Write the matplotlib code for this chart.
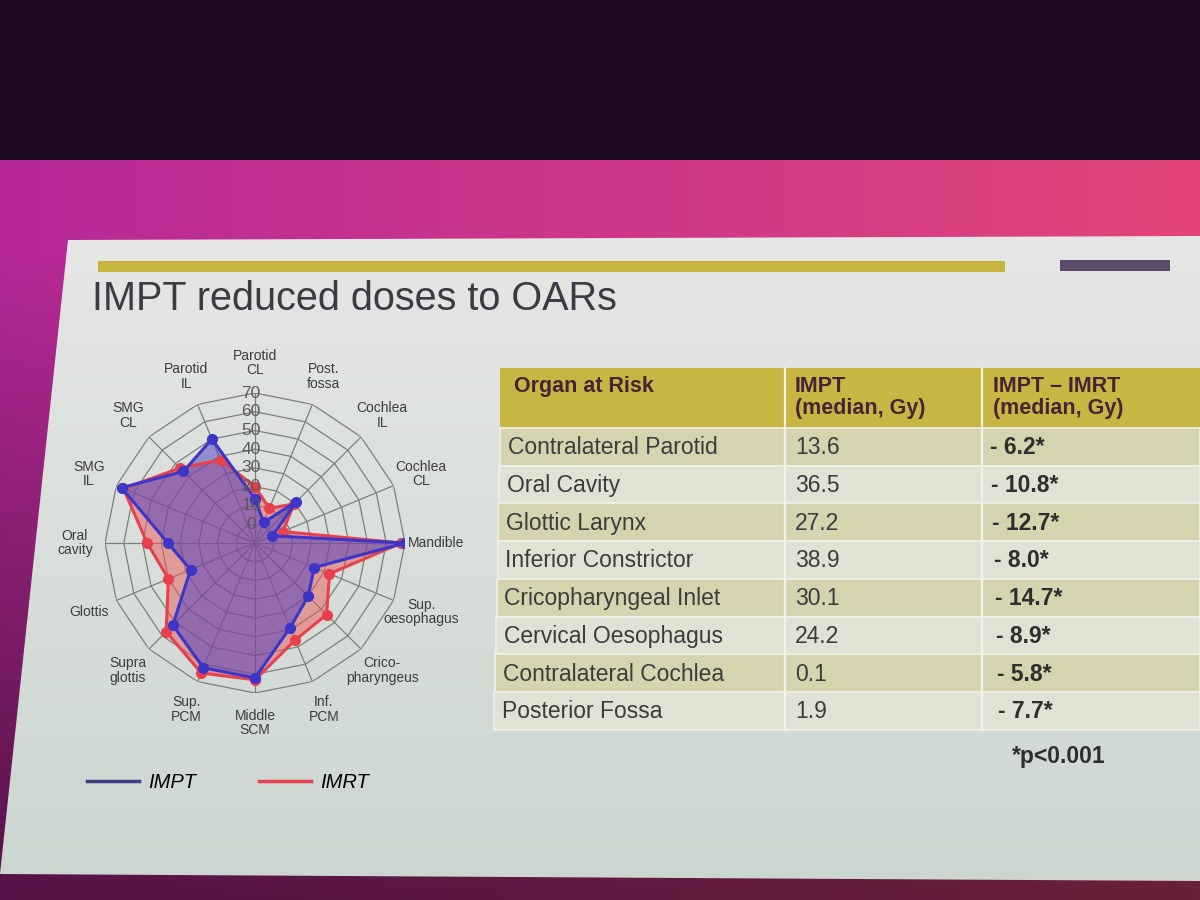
import numpy as np
import matplotlib
matplotlib.use("Agg")
import matplotlib.pyplot as plt
from matplotlib.patches import Polygon, Rectangle
from matplotlib.lines import Line2D

plt.rcParams.update({
    'font.family': ['Liberation Sans', 'DejaVu Sans'],
    'figure.dpi': 100,
})

# radar data (Gy), clockwise from the top spoke
categories = ["Parotid\nCL", "Post.\nfossa", "Cochlea\nIL", "Cochlea\nCL", "Mandible",
              "Sup.\noesophagus", "Crico-\npharyngeus", "Inf.\nPCM", "Middle\nSCM",
              "Sup.\nPCM", "Supra\nglottis", "Glottis", "Oral\ncavity", "SMG\nIL",
              "SMG\nCL", "Parotid\nIL"]
impt = [13.6, 1.9, 21.0, 0.1, 70.0, 24.2, 30.1, 38.9, 62.0, 62.0, 52.0, 27.2, 36.5, 67.0, 44.0, 50.0]
imrt = [20.0, 10.0, 19.5, 6.0, 68.0, 33.0, 44.0, 46.0, 63.0, 65.0, 57.0, 40.0, 47.5, 66.0, 46.5, 38.0]
radial_ticks = [0, 10, 20, 30, 40, 50, 60, 70]

# table data
organs = ["Contralateral Parotid", "Oral Cavity", "Glottic Larynx", "Inferior Constrictor",
          "Cricopharyngeal Inlet", "Cervical Oesophagus", "Contralateral Cochlea", "Posterior Fossa"]
impt_median = ["13.6", "36.5", "27.2", "38.9", "30.1", "24.2", "0.1", "1.9"]
diff_median = ["- 6.2*", "- 10.8*", "- 12.7*", "- 8.0*", "- 14.7*", "- 8.9*", "- 5.8*", "- 7.7*"]
headers = ["Organ at Risk", "IMPT\n(median, Gy)", "IMPT \u2013 IMRT\n(median, Gy)"]

BLUE = '#3b35c8'
RED = '#e8404c'
GRID = '#7d7f7d'
TEXT = '#3c3c3c'

fig = plt.figure(figsize=(12, 9))

# backdrop + slide, pixel coordinates
bg = fig.add_axes([0, 0, 1, 1])
bg.set_xlim(0, 1200)
bg.set_ylim(900, 0)
bg.set_axis_off()

h, w = 90, 120
yy, xx = np.mgrid[0:h, 0:w]
left = np.array([0.72, 0.16, 0.60])
right = np.array([0.89, 0.27, 0.48])
t = (xx / (w - 1))[..., None]
img = left * (1 - t) + right * t
fade = np.clip((yy - 24) / (h - 24), 0, 1)[..., None]
img = img * (1 - 0.55 * fade)
img[yy < 15.5] = np.array([0.12, 0.05, 0.13])
bg.imshow(img, extent=(0, 1200, 900, 0), aspect='auto', zorder=0)

slide = Polygon([(68, 240), (1200, 236), (1200, 881), (0, 874)], closed=True,
                facecolor='none', edgecolor='none')
bg.add_patch(slide)
sh = np.linspace(0, 1, 100)[:, None, None]
top_c = np.array([0.90, 0.905, 0.90])
bot_c = np.array([0.80, 0.84, 0.815])
slide_img = top_c * (1 - sh) + bot_c * sh
slide_img = np.repeat(slide_img, 2, axis=1)
im = bg.imshow(slide_img, extent=(0, 1200, 881, 236), aspect='auto', zorder=1)
im.set_clip_path(slide)

bg.add_patch(Rectangle((98, 261), 907, 11, facecolor='#c8b43c', edgecolor='none', zorder=2))
bg.add_patch(Rectangle((1060, 260), 110, 11, facecolor='#5b4a68', edgecolor='none', zorder=2))
bg.text(92, 310, "IMPT reduced doses to OARs", fontsize=28.5, color='#3c3b44',
        va='baseline', ha='left', zorder=3)

# table
col_x = [500, 785, 982, 1200]
head_top, head_bot = 368, 428
row_h = 37.7
bg.add_patch(Rectangle((col_x[0], head_top), col_x[3] - col_x[0], head_bot - head_top,
                       facecolor='#c9b541', edgecolor='none', zorder=2))
for j in range(1, 3):
    bg.plot([col_x[j], col_x[j]], [head_top, head_bot + row_h * len(organs)],
            color='#f2f2ea', lw=1.6, zorder=3)
head_pad = [14, 10, 11]
for j, lab in enumerate(headers):
    bg.text(col_x[j] + head_pad[j], head_top + 8, lab, fontsize=15.5, fontweight='bold',
            color='#4a2238', va='top', ha='left', linespacing=1.05, zorder=4)
for i, organ in enumerate(organs):
    y0 = head_bot + i * row_h
    shade = '#d6d4af' if i % 2 == 0 else '#e0e2d3'
    bg.add_patch(Rectangle((col_x[0] - i * 0.8, y0), col_x[3] - col_x[0] + i * 0.8, row_h,
                           facecolor=shade, edgecolor='#f0f1ea', lw=1.2, zorder=2))
    yc = y0 + row_h / 2 + 1
    bg.text(col_x[0] + 8 - i * 0.9, yc, organ, fontsize=16.5, color=TEXT,
            va='center', ha='left', zorder=4)
    bg.text(col_x[1] + 10, yc, impt_median[i], fontsize=16.5, color=TEXT,
            va='center', ha='left', zorder=4)
    bg.text(col_x[2] + 8 + i * 1.2, yc, diff_median[i], fontsize=16.5, color='#2e2e2e',
            fontweight='bold', va='center', ha='left', zorder=4)
bg.text(1012, 757, "*p<0.001", fontsize=16.5, fontweight='bold', color='#2e2e2e',
        va='center', ha='left', zorder=4)

# radar chart
cx, cy, R = 255, 543, 150
ax = fig.add_axes([(cx - R) / 1200, (900 - cy - R) / 900, 2 * R / 1200, 2 * R / 900],
                  projection='polar')
ax.set_theta_offset(np.pi / 2)
ax.set_theta_direction(-1)
ax.set_ylim(-10, 70)
ax.set_axis_off()

n = len(categories)
theta = np.arange(n) * 2 * np.pi / n
theta_c = np.append(theta, theta[0])

for r in radial_ticks:
    ax.plot(theta_c, [r] * (n + 1), color=GRID, lw=0.9, zorder=1)
for th in theta:
    ax.plot([th, th], [-10, 70], color=GRID, lw=0.9, zorder=1)

imrt_c = np.append(imrt, imrt[0])
impt_c = np.append(impt, impt[0])
ax.fill(theta_c, imrt_c, color='#e85a5a', alpha=0.5, lw=0, zorder=2)
ax.fill(theta_c, impt_c, color='#4a3cc0', alpha=0.5, lw=0, zorder=3)
ax.plot(theta_c, imrt_c, color=RED, lw=2.2, marker='o', ms=7, zorder=4)
ax.plot(theta_c, impt_c, color=BLUE, lw=2.2, marker='o', ms=7, zorder=5)

for r in radial_ticks:
    ax.annotate(str(r), xy=(0, r), xytext=(-3, 0), textcoords='offset points',
                ha='center', va='center', fontsize=12.5, color='#5a5a5a', zorder=6)

for th, lab in zip(theta, categories):
    if lab == "Mandible":
        ax.text(th, 71.5, lab, ha='left', va='center', fontsize=10, color=TEXT)
    else:
        ax.text(th, 86, lab, ha='center', va='center', fontsize=10, color=TEXT,
                linespacing=1.05)

handles = [Line2D([], [], color='#3e3c86', lw=2.5),
           Line2D([], [], color=RED, lw=2.5)]
fig.legend(handles, ["IMPT", "IMRT"], loc='center', bbox_to_anchor=(228 / 1200, 1 - 783 / 900),
           ncol=2, frameon=False, fontsize=14.5, handlelength=2.6, handletextpad=0.45,
           columnspacing=3.1, prop={'style': 'italic', 'size': 14.5})

fig.savefig("out.png", dpi=100)
